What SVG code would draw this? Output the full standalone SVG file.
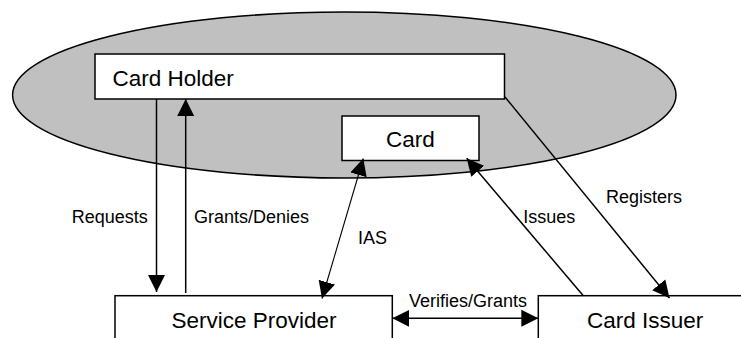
<svg xmlns="http://www.w3.org/2000/svg" width="741" height="338" viewBox="0 0 741 338">
<style>
.box{fill:#fff;stroke:#000;stroke-width:1.5}
.big{font-family:"Liberation Sans",Arial,sans-serif;font-size:22.5px;fill:#000}
.lbl{font-family:"Liberation Sans",Arial,sans-serif;font-size:18px;fill:#000}
.ln{fill:none;stroke:#000;stroke-width:1.5}
.thin{fill:none;stroke:#000;stroke-width:1.1}
</style>
<defs>
<marker id="ah" markerUnits="userSpaceOnUse" markerWidth="18" markerHeight="18" refX="17" refY="8.5" orient="auto-start-reverse" viewBox="0 0 18 17">
<path d="M0,0 L17,8.5 L0,17 z" fill="#000"/>
</marker>
</defs>
<g id="domain">
<ellipse cx="344.3" cy="95" rx="331.7" ry="83" fill="#c0c0c0" stroke="#000" stroke-width="1.5"/>
</g>
<g id="card-holder">
<rect class="box" x="95" y="54" width="409.5" height="45"/>
<text class="big" x="112.5" y="85.5">Card Holder</text>
</g>
<g id="card">
<rect class="box" x="342" y="116" width="137" height="44.5"/>
<text class="big" x="410.5" y="147.3" text-anchor="middle">Card</text>
</g>
<g id="service-provider">
<rect class="box" x="115" y="295.7" width="277.3" height="60"/>
<text class="big" x="254" y="327.7" text-anchor="middle">Service Provider</text>
</g>
<g id="card-issuer">
<rect class="box" x="538.3" y="295.7" width="230" height="60"/>
<text class="big" x="587" y="327.7">Card Issuer</text>
</g>
<g id="connectors">
<line class="ln" x1="156.5" y1="99" x2="156.5" y2="292" marker-end="url(#ah)"/>
<line class="ln" x1="185.7" y1="293" x2="185.7" y2="99" marker-end="url(#ah)"/>
<line class="thin" x1="363.3" y1="158.5" x2="322" y2="298.5" marker-start="url(#ah)" marker-end="url(#ah)"/>
<line class="ln" x1="583.3" y1="295.7" x2="466.7" y2="158.3" marker-end="url(#ah)"/>
<line class="ln" x1="505" y1="97" x2="669.5" y2="298" marker-end="url(#ah)"/>
<line class="ln" x1="392.3" y1="318.3" x2="538.3" y2="318.3" marker-start="url(#ah)" marker-end="url(#ah)"/>
<text class="lbl" x="71.7" y="223.3">Requests</text>
<text class="lbl" x="194" y="223.3">Grants/Denies</text>
<text class="lbl" x="358" y="244">IAS</text>
<text class="lbl" x="523.3" y="223.3">Issues</text>
<text class="lbl" x="606" y="203.3">Registers</text>
<text class="lbl" x="468" y="306.7" text-anchor="middle">Verifies/Grants</text>
</g>
</svg>
